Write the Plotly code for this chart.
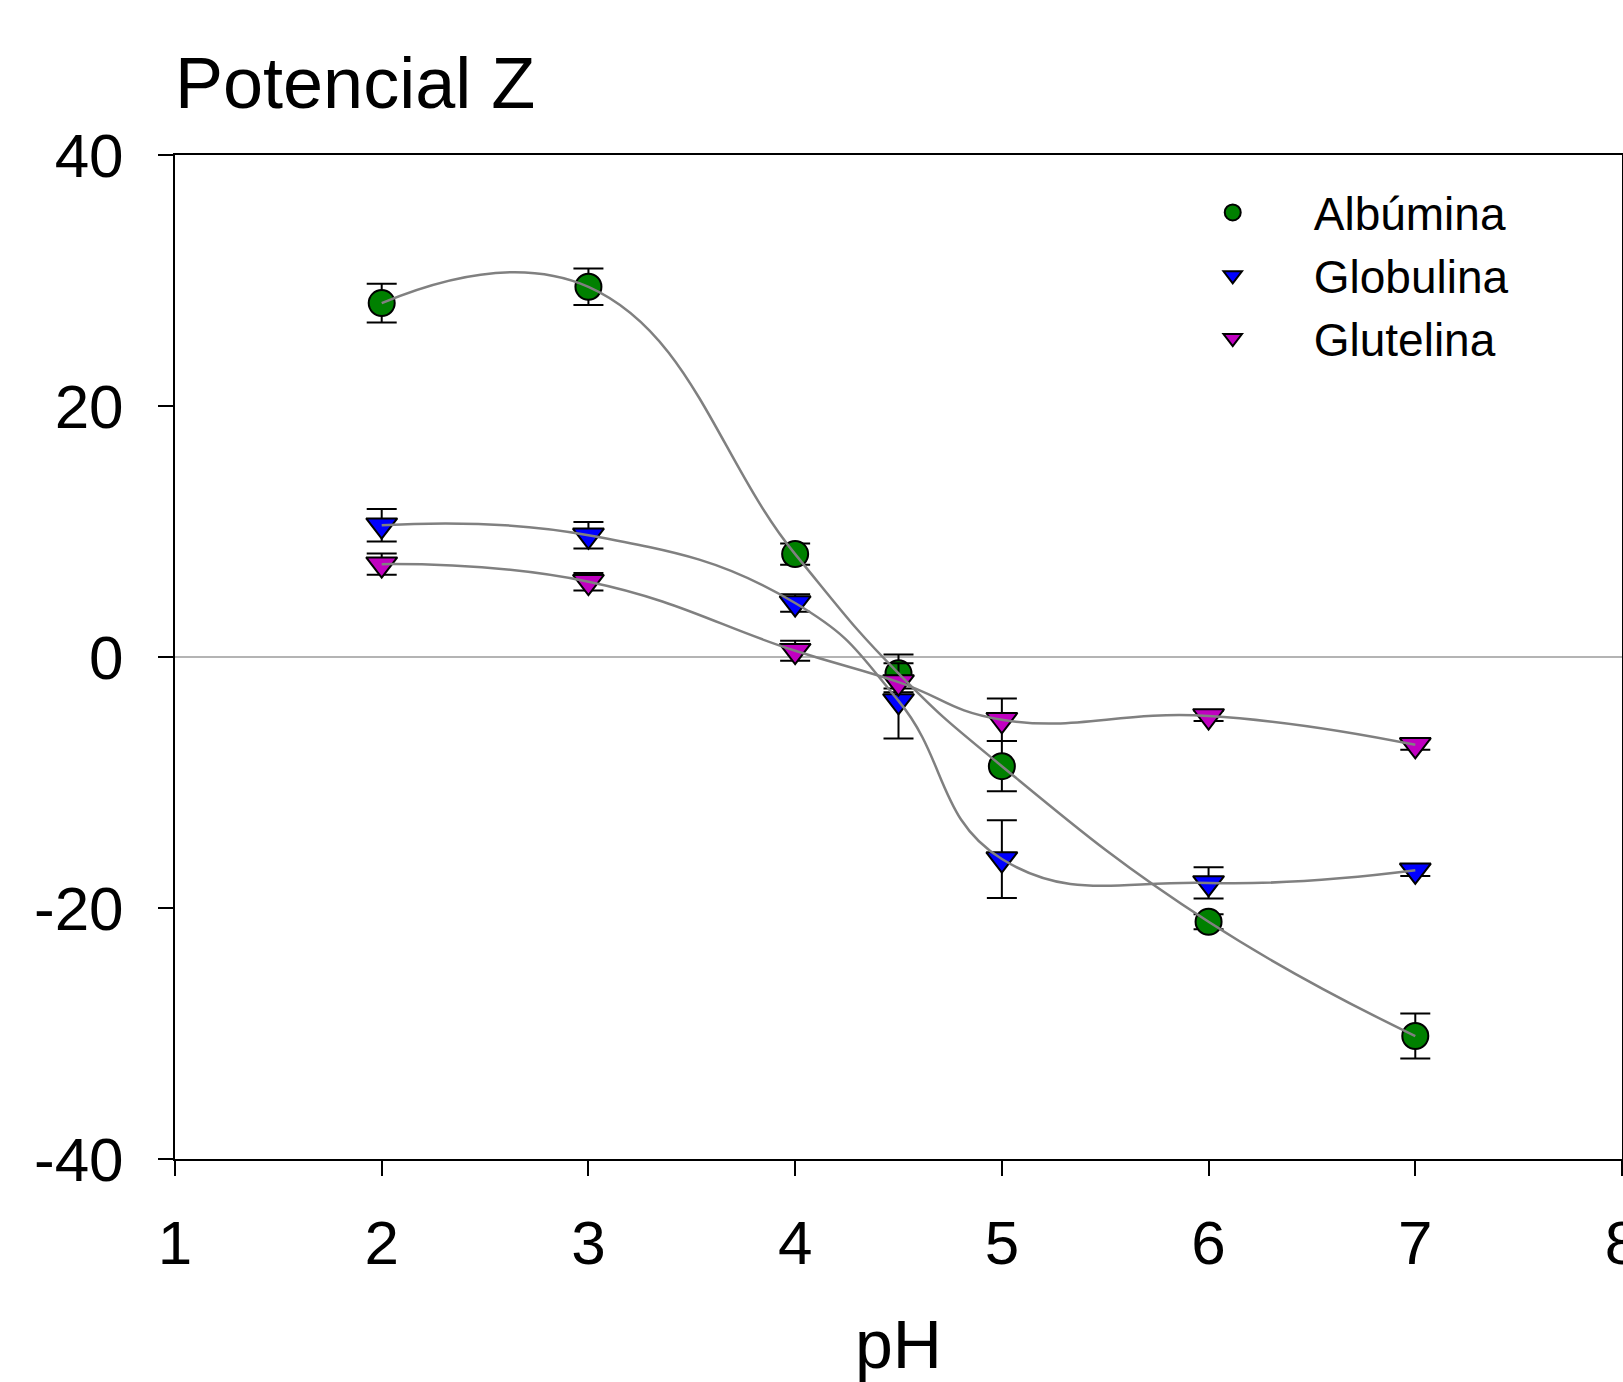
import plotly.graph_objects as go

# ---- data ----
ph = [2, 3, 4, 4.5, 5, 6, 7]
albumina = [28.2, 29.5, 8.2, -1.3, -8.7, -21.1, -30.2]
albumina_err = [1.55, 1.45, 0.85, 1.5, 2.0, 0.6, 1.8]
globulina = [10.5, 9.7, 4.3, -3.5, -16.1, -18.0, -17.0]
globulina_err = [1.3, 1.05, 0.7, 3.0, 3.1, 1.25, 0.45]
glutelina = [7.4, 6.0, 0.5, -2.0, -5.0, -4.7, -7.0]
glutelina_err = [0.85, 0.7, 0.8, 0.5, 1.7, 0.4, 0.4]

series_names = ["Albúmina", "Globulina", "Glutelina"]
x_ticks = [1, 2, 3, 4, 5, 6, 7, 8]
y_ticks = [-40, -20, 0, 20, 40]

FONT = "Liberation Sans, Arial, Helvetica, sans-serif"

series = [
    (series_names[0], albumina, albumina_err, "circle", "#008000", 26),
    (series_names[1], globulina, globulina_err, "triangle-down", "#0000ff", 27),
    (series_names[2], glutelina, glutelina_err, "triangle-down", "#c000c0", 27),
]

fig = go.Figure()

# markers with error bars
for name, vals, errs, sym, col, sz in series:
    fig.add_trace(go.Scatter(
        x=ph, y=vals, mode="markers", name=name,
        marker=dict(symbol=sym, size=sz, color=col, line=dict(color="black", width=2)),
        error_y=dict(type="data", array=errs, visible=True, color="black", thickness=2, width=15),
    ))

# smooth gray curves on top
for name, vals, errs, sym, col, sz in series:
    fig.add_trace(go.Scatter(
        x=ph, y=vals, mode="lines", showlegend=False, hoverinfo="skip",
        line=dict(color="#808080", width=2.5, shape="spline", smoothing=1.3),
    ))

fig.update_layout(
    width=1623, height=1382,
    margin=dict(l=175, r=1, t=155, b=223, autoexpand=False),
    paper_bgcolor="white", plot_bgcolor="white",
    font=dict(family=FONT, color="black"),
    title=dict(text="Potencial Z", font=dict(size=72, family=FONT, color="black"),
               xref="paper", x=0, xanchor="left", yref="container", y=1 - 83 / 1382, yanchor="middle"),
    showlegend=True,
    legend=dict(x=0.675, y=0.979, xanchor="left", yanchor="top",
                font=dict(size=46, family=FONT, color="black"),
                bgcolor="rgba(0,0,0,0)", itemwidth=152, tracegroupgap=0),
)

fig.update_xaxes(
    range=[1, 8], tickvals=x_ticks, ticktext=[str(t) for t in x_ticks],
    showline=True, linecolor="black", linewidth=2, mirror=True,
    ticks="outside", ticklen=15, tickwidth=2, tickcolor="black",
    tickfont=dict(size=62, family=FONT, color="black"), ticklabelstandoff=14,
    ticklabeloverflow="allow", automargin=False,
    showgrid=False, zeroline=False,
    title=dict(text="pH", font=dict(size=68, family=FONT, color="black"), standoff=52),
)
fig.update_yaxes(
    range=[-40, 40], tickvals=y_ticks, ticktext=[str(t) for t in y_ticks],
    showline=True, linecolor="black", linewidth=2, mirror=True,
    ticks="outside", ticklen=15, tickwidth=2, tickcolor="black",
    tickfont=dict(size=62, family=FONT, color="black"), ticklabelstandoff=22,
    automargin=False,
    showgrid=False, zeroline=True, zerolinecolor="#b4b4b4", zerolinewidth=1.5,
)

# remove the page's default body margin so the figure sits at the window's top-left corner
fig.write_html(
    "out.html",
    config={"displayModeBar": False},
    post_script="document.body.style.margin='0';document.body.style.overflow='hidden';"
                "document.documentElement.style.overflow='hidden';",
)
